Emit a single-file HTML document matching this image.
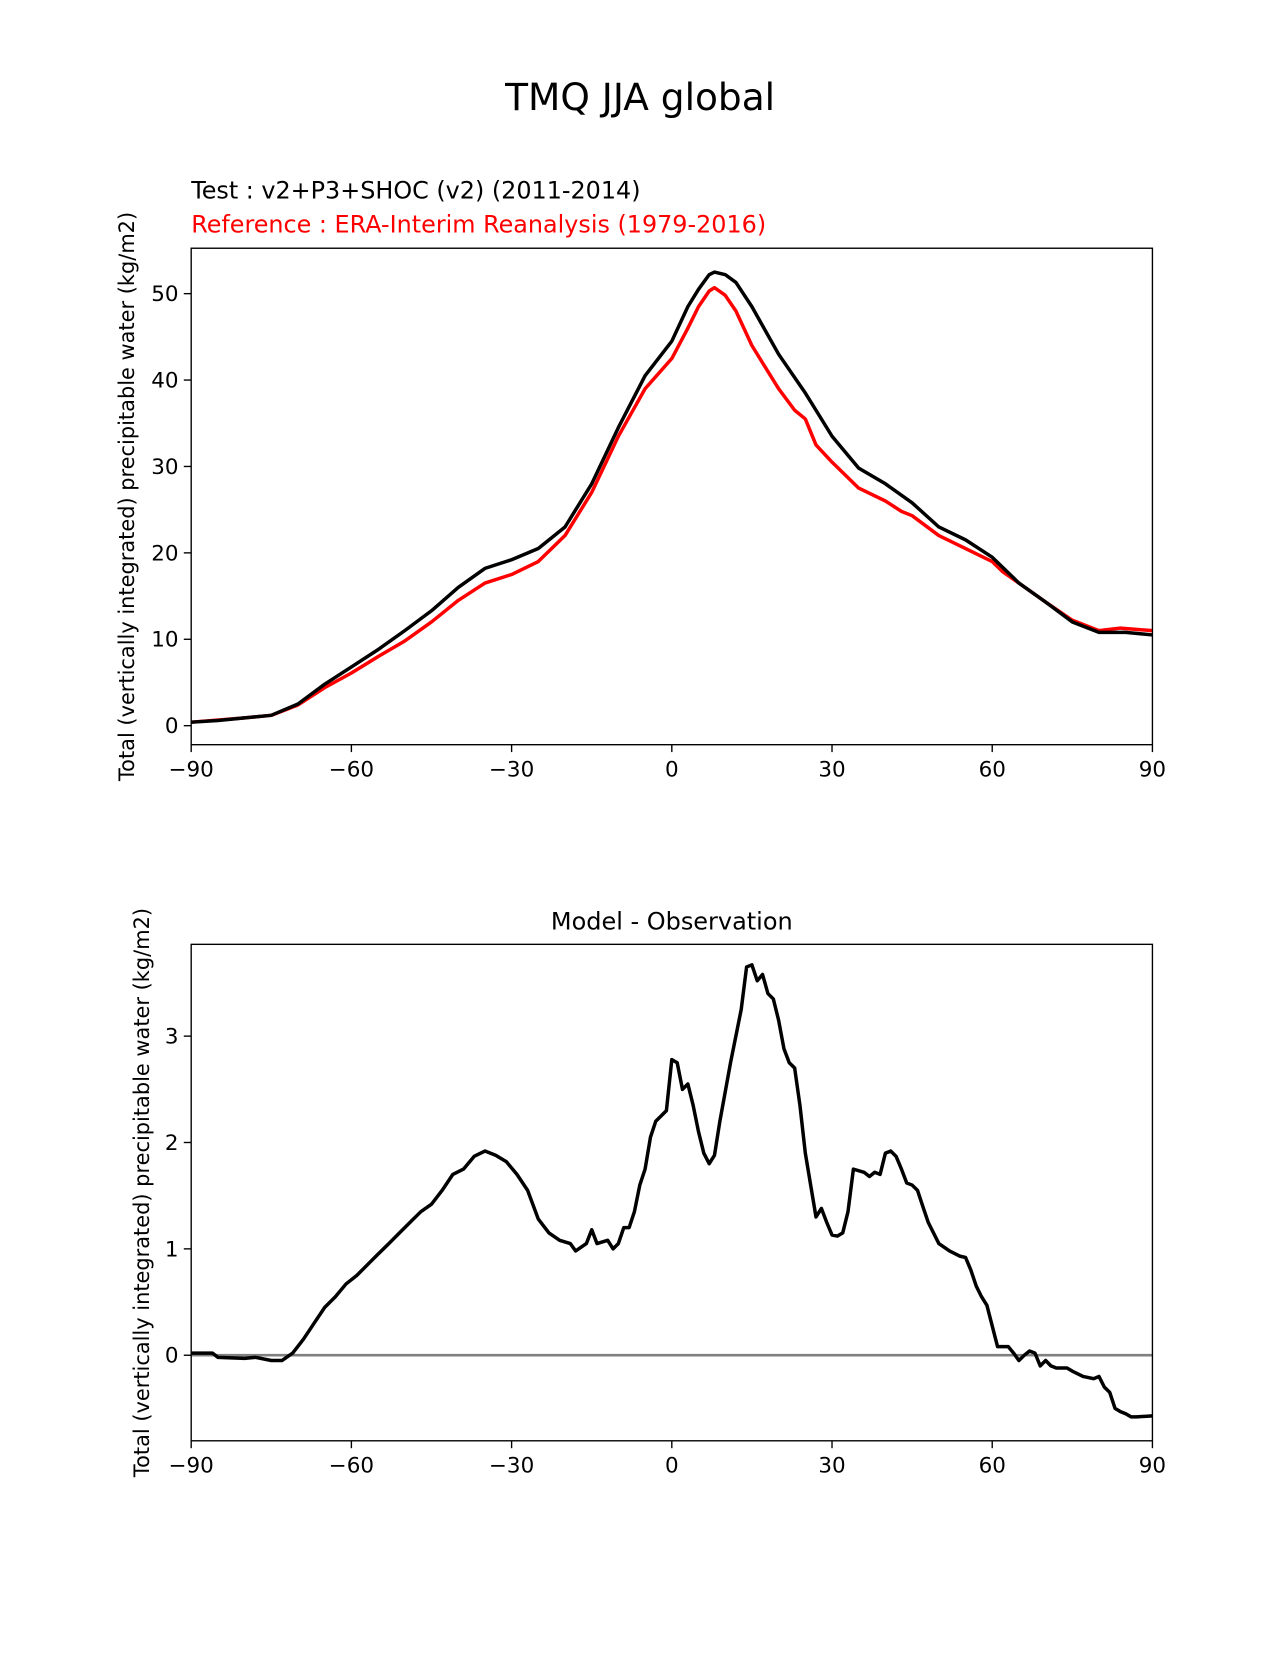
<!DOCTYPE html>
<html><head><meta charset="utf-8"><style>
body{margin:0;background:#fff;}
svg text{font-family:"DejaVu Sans","Liberation Sans",sans-serif;}
</style></head><body>
<svg id="fig" width="1275" height="1650" xmlns="http://www.w3.org/2000/svg">
<rect width="1275" height="1650" fill="#fff"/>
<g transform="scale(1.0563)">
<text x="606" y="104" font-size="35.5" text-anchor="middle">TMQ JJA global</text>
<text x="181" y="188" font-size="22.6">Test : v2+P3+SHOC (v2) (2011-2014)</text>
<text x="181" y="220" font-size="22.6" fill="#f00">Reference : ERA-Interim Reanalysis (1979-2016)</text>
<text x="636" y="880" font-size="22.7" text-anchor="middle">Model - Observation</text>
<g id="top"></g>
<g id="bot"></g>
</g>
</svg>
<script>
const latTest=[-90,-85,-80,-75,-70,-65,-60,-55,-50,-45,-40,-35,-30,-25,-20,-15,-10,-5,0,3,5,7,8,10,12,15,20,25,27,30,35,40,45,50,55,60,65,70,75,80,85,90];
const valTest=[0.4,0.6,0.9,1.2,2.5,4.8,6.8,8.8,11,13.3,16,18.2,19.2,20.5,23,28,34.5,40.5,44.5,48.5,50.5,52.2,52.5,52.2,51.3,48.5,43,38.5,36.5,33.5,29.8,28,25.8,23,21.5,19.5,16.5,14.3,12,10.8,10.8,10.5];
const latRef=[-90,-80,-75,-70,-65,-60,-55,-50,-45,-40,-35,-30,-25,-20,-15,-10,-5,0,3,5,7,8,10,12,15,20,23,25,27,30,35,40,43,45,50,55,60,62,65,70,75,80,84,90];
const valRef=[0.4,0.9,1.2,2.4,4.4,6.1,8,9.8,12,14.5,16.5,17.5,19,22,27,33.5,39,42.5,46,48.5,50.3,50.7,49.8,48,44,39,36.5,35.5,32.5,30.5,27.5,26,24.8,24.3,22,20.5,19,17.8,16.5,14.3,12.2,11,11.3,11];
const latDiff=[
-90,-88,-86,-85,-80,-78,-75,-73,-71,-69,
-67,-65,-63,-61,-59,-57,-55,-53,-51,-49,
-47,-45,-43,-41,-39,-37,-35,-33,-31,-29,
-27,-25,-23,-21,-19,-18,-16,-15,-14,-12,
-11,-10,-9,-8,-7,-6,-5,-4,-3,-1,
0,1,2,3,4,5,6,7,8,9,
11,13,14,15,16,17,18,19,20,21,
22,23,24,25,27,28,29,30,31,32,
33,34,36,37,38,39,40,41,42,43,
44,45,46,47,48,50,52,54,55,56,
57,58,59,61,63,64,65,66,67,68,
69,70,71,72,74,75,77,79,80,81,
82,83,84,85,86,87,90];
const valDiff=[
0.02,0.02,0.02,-0.02,-0.03,-0.02,-0.05,-0.05,0.02,0.15,
0.3,0.45,0.55,0.67,0.75,0.85,0.95,1.05,1.15,1.25,
1.35,1.42,1.55,1.7,1.75,1.87,1.92,1.88,1.82,1.7,
1.55,1.28,1.15,1.08,1.05,0.98,1.05,1.18,1.05,1.08,
1.0,1.05,1.2,1.2,1.35,1.6,1.75,2.05,2.2,2.3,
2.78,2.75,2.5,2.55,2.35,2.1,1.9,1.8,1.88,2.2,
2.75,3.25,3.65,3.67,3.52,3.58,3.4,3.35,3.15,2.88,
2.75,2.7,2.35,1.9,1.3,1.38,1.25,1.13,1.12,1.15,
1.35,1.75,1.72,1.68,1.72,1.7,1.9,1.92,1.87,1.75,
1.62,1.6,1.55,1.4,1.25,1.05,0.98,0.93,0.92,0.8,
0.65,0.55,0.47,0.08,0.08,0.02,-0.05,0,0.04,0.02,
-0.1,-0.05,-0.1,-0.12,-0.12,-0.15,-0.2,-0.22,-0.2,-0.3,
-0.35,-0.5,-0.53,-0.55,-0.58,-0.58,-0.57];
const xTicks=[-90,-60,-30,0,30,60,90];
const xTickLabels=["\u221290","\u221260","\u221230","0","30","60","90"];
const topYTicks=[0,10,20,30,40,50];
const botYTicks=[0,1,2,3];
const NS="http://www.w3.org/2000/svg";
function mk(p,tag,at){const e=document.createElementNS(NS,tag);for(const k in at)e.setAttribute(k,at[k]);p.appendChild(e);return e;}
const X0=181,X1=1091;
const xs=v=>X0+(v+90)/180*(X1-X0);
function axes(g,top,bot,ys,yTicks,ylabel,lblX){
  for(let i=0;i<xTicks.length;i++){
    const t=mk(g,'line',{x1:xs(xTicks[i]),x2:xs(xTicks[i]),y1:bot,y2:bot+7,stroke:'#000','stroke-width':1.3});
    
    const l=mk(g,'text',{x:xs(xTicks[i]),y:bot+30,'font-size':20.3,'text-anchor':'middle'});l.textContent=xTickLabels[i];
    
  }
  yTicks.forEach(v=>{
    const t=mk(g,'line',{x1:X0-7,x2:X0,y1:ys(v),y2:ys(v),stroke:'#000','stroke-width':1.3});
    
    const l=mk(g,'text',{x:X0-12,y:ys(v)+7,'font-size':20.3,'text-anchor':'end'});l.textContent=String(v);
    
  });
  const yl=mk(g,'text',{x:lblX,y:(top+bot)/2,'font-size':19.8,'text-anchor':'middle',transform:`rotate(-90 ${lblX} ${(top+bot)/2})`});
  yl.textContent=ylabel;
}
function line(g,lat,val,ys,color,name){
  const d=lat.map((v,i)=>(i?'L':'M')+xs(v).toFixed(1)+','+ys(val[i]).toFixed(1)).join('');
  const p=mk(g,'path',{d:d,fill:'none',stroke:color,'stroke-width':3.3,'stroke-linejoin':'round'});
  
}
const YL="Total (vertically integrated) precipitable water (kg/m2)";
const gt=document.getElementById('top');
const tT=235,tB=705,ysT=v=>687-v*8.18;
axes(gt,tT,tB,ysT,topYTicks,YL,127);
line(gt,latRef,valRef,ysT,'#f00','reference-line');
line(gt,latTest,valTest,ysT,'#000','test-line');
const f1=mk(gt,'rect',{x:X0,y:tT,width:X1-X0,height:tB-tT,fill:'none',stroke:'#000','stroke-width':1.3});

const gb=document.getElementById('bot');
const bT=894,bB=1364,ysB=v=>1283-v*100.7;
axes(gb,bT,bB,ysB,botYTicks,YL,141);
const zl=mk(gb,'line',{x1:X0,x2:X1,y1:ysB(0),y2:ysB(0),stroke:'#808080','stroke-width':2.5});

line(gb,latDiff,valDiff,ysB,'#000','difference-line');
const f2=mk(gb,'rect',{x:X0,y:bT,width:X1-X0,height:bB-bT,fill:'none',stroke:'#000','stroke-width':1.3});

</script>
</body></html>
